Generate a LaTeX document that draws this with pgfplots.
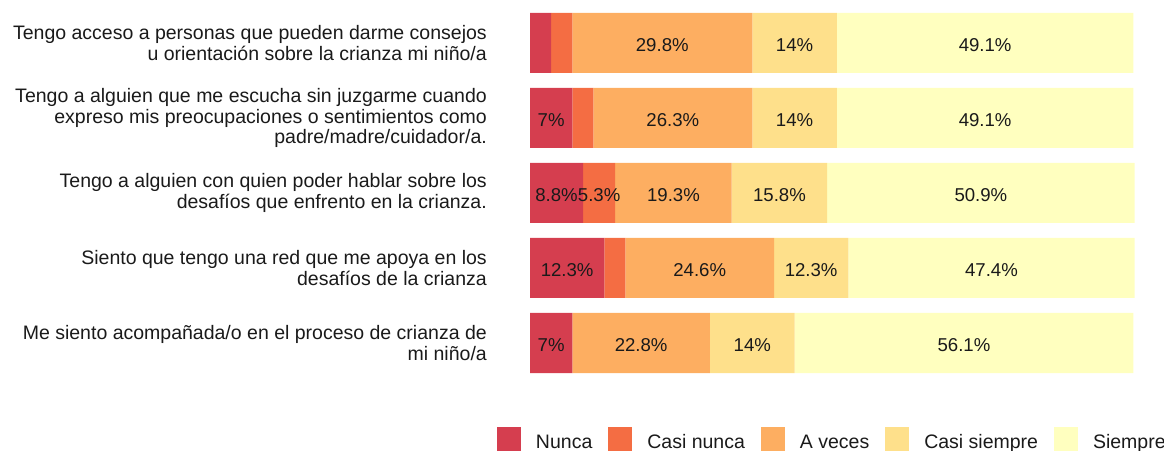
\documentclass[border=0pt]{standalone}
\usepackage{fontspec}
\setmainfont{Liberation Sans}
\usepackage{pgfplots}
\pgfplotsset{compat=1.18}
\usepackage{pgfplotstable}
\definecolor{cN}{HTML}{D53E4F}
\definecolor{cCN}{HTML}{F46D43}
\definecolor{cAV}{HTML}{FDAE61}
\definecolor{cCS}{HTML}{FEE08B}
\definecolor{cS}{HTML}{FFFFBF}
\definecolor{txt}{HTML}{1A1A1A}

\pgfplotstableread{
y N CN AV CS S
5 3.5 3.5 29.8 14 49.1
4 7 3.5 26.3 14 49.1
3 8.8 5.3 19.3 15.8 50.9
2 12.3 3.5 24.6 12.3 47.4
1 7 0 22.8 14 56.1
}\datatable

\newcommand{\lblfont}{\fontsize{19.5bp}{20.8bp}\selectfont}
\newcommand{\valfont}{\fontsize{18.6bp}{20bp}\selectfont}

\begin{document}
\begin{tikzpicture}
\path[use as bounding box] (0,0) rectangle (1164bp,451bp);
\begin{axis}[
  at={(530bp,70.5bp)}, anchor=south west,
  scale only axis, width=604bp, height=375bp,
  xbar stacked, bar width=60bp,
  xmin=0, xmax=100, ymin=0.5, ymax=5.5,
  enlargelimits=false,
  clip=false,
  axis line style={draw=none}, tick style={draw=none},
  major tick length=0pt,
  xtick=\empty,
  ytick={1,2,3,4,5},
  yticklabels={
    {Me siento acompañada/o en el proceso de crianza de\\mi niño/a},
    {Siento que tengo una red que me apoya en los\\desafíos de la crianza},
    {Tengo a alguien con quien poder hablar sobre los\\desafíos que enfrento en la crianza.},
    {Tengo a alguien que me escucha sin juzgarme cuando\\expreso mis preocupaciones o sentimientos como\\padre/madre/cuidador/a.},
    {Tengo acceso a personas que pueden darme consejos\\u orientación sobre la crianza mi niño/a}
  },
  yticklabel style={align=right, inner sep=0pt, xshift=-43bp, font=\lblfont, text=txt},
  point meta=explicit symbolic,
  nodes near coords={\ifdim\pgfplotspointmeta pt<5pt\relax\else\pgfplotspointmeta\%\fi},
  every node near coord/.append style={anchor=center, yshift=-2.5bp, font=\valfont, text=txt, inner sep=0pt},
  legend columns=5,
  legend image code/.code={\fill[#1] (0bp,-5bp) rectangle (24bp,19bp);},
  legend style={at={(axis description cs:-0.054636,-0.157333)}, anchor=west,
    draw=none, fill=none, inner sep=0pt, outer sep=0pt, font=\lblfont, text=txt,
    nodes={inner sep=0pt, yshift=4bp},
    /tikz/every odd column/.append style={column sep=15bp},
    /tikz/every even column/.append style={column sep=16bp}},
  legend cell align=left,
]
\addplot[fill=cN, draw=none] table[x=N, y=y, meta=N] {\datatable};
\addplot[fill=cCN, draw=none] table[x=CN, y=y, meta=CN] {\datatable};
\addplot[fill=cAV, draw=none] table[x=AV, y=y, meta=AV] {\datatable};
\addplot[fill=cCS, draw=none] table[x=CS, y=y, meta=CS] {\datatable};
\addplot[fill=cS, draw=none] table[x=S, y=y, meta=S] {\datatable};
\legend{Nunca, Casi nunca, A veces, Casi siempre, Siempre}
\end{axis}
\end{tikzpicture}
\end{document}
